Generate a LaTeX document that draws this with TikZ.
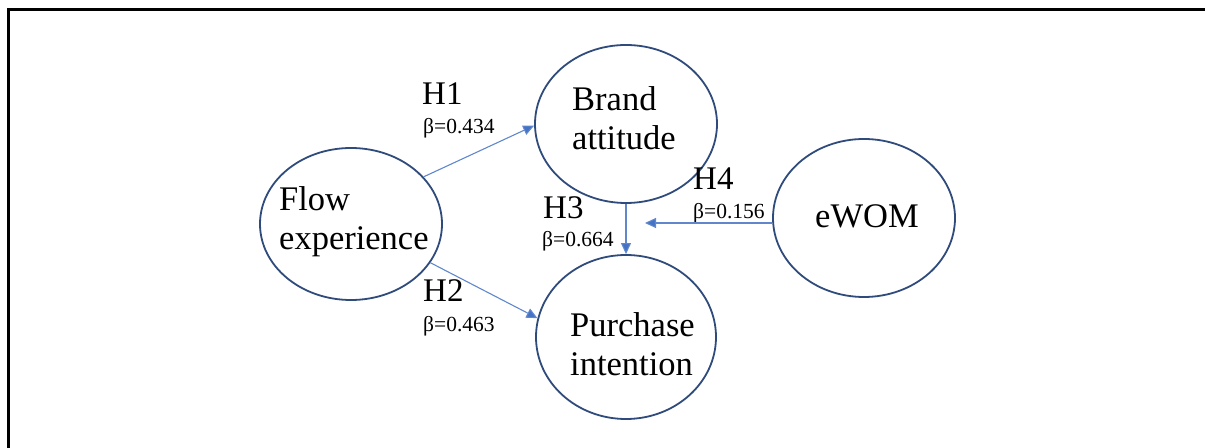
\documentclass[tikz,border=0pt]{standalone}
\usepackage{fontspec}
\setmainfont{Liberation Serif}
\usetikzlibrary{shapes.geometric,arrows.meta}
\definecolor{ringcol}{HTML}{2F4B7C}
\definecolor{linkcol}{HTML}{4472C4}
\begin{document}
\begin{tikzpicture}[x=1bp,y=-1bp,
  construct/.style={draw=ringcol, line width=1.8bp, ellipse, inner sep=0pt},
  % anchored at the baseline of the last line
  ctext/.style={font=\fontsize{34.5bp}{39bp}\selectfont, align=left, inner sep=0pt, anchor=base west},
  hyp/.style={font=\fontsize{33bp}{39bp}\selectfont, inner sep=0pt, anchor=base west},
  coef/.style={font=\fontsize{21.5bp}{25bp}\selectfont, inner sep=0pt, anchor=base west},
  link/.style={draw=linkcol!85!white, line width=1.1bp, -{Triangle[length=11bp,width=10bp,fill=linkcol]}}]
\useasboundingbox (0,0) rectangle (1205,448);
% frame edges
\draw[line width=3bp] (8,448) -- (8,10) -- (1205,10);

% constructs
\node[construct, minimum width=182bp, minimum height=152bp] (flow) at (351,224) {};
\node[construct, minimum width=182bp, minimum height=158bp] (brand) at (626,124) {};
\node[construct, minimum width=180bp, minimum height=164bp] (purchase) at (626,337) {};
\node[construct, minimum width=182bp, minimum height=158bp] (ewom) at (864,218) {};

\node[ctext] (flowtxt) at (279,250) {Flow\\experience};
\node[ctext] (brandtxt) at (572,150) {Brand\\attitude};
\node[ctext] (purchtxt) at (570,376) {Purchase\\intention};
\node[ctext] (ewomtxt) at (815,228) {eWOM};

% hypotheses
\node[hyp] (h1) at (422,105) {H1};
\node[coef] (b1) at (423,134) {β=0.434};
\node[hyp] (h2) at (423,302) {H2};
\node[coef] (b2) at (423,332) {β=0.463};
\node[hyp] (h3) at (543,219) {H3};
\node[coef] (b3) at (542,247) {β=0.664};
\node[hyp] (h4) at (693,190) {H4};
\node[coef] (b4) at (693,219) {β=0.156};

% paths
\draw[link] (flow.33) -- (brand.181);
\draw[link] (flow.-26) -- (purchase.168);
\draw[link] (brand.south) -- (brand.south |- purchase.north);
\coordinate (h4end) at (645,223);
\draw[link] (h4end -| ewom.west) -- (h4end);
\end{tikzpicture}
\end{document}
